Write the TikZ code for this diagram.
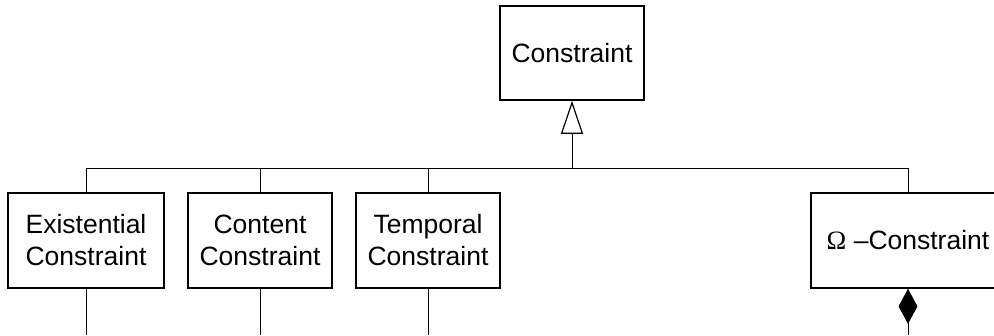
\documentclass[tikz,border=0pt]{standalone}
\usepackage{fontspec}
\setmainfont{Liberation Sans}
\newfontfamily\omegafont{Liberation Serif}
\usetikzlibrary{arrows.meta}
\begin{document}
\begin{tikzpicture}[x=1pt,y=-1pt,
  classbox/.style={draw,line width=1.6pt,inner sep=0pt,align=center,
    font=\fontsize{26.5}{32}\selectfont},
  link/.style={line width=0.9pt}]
\useasboundingbox (0,0) rectangle (994,335);
\clip (0,0) rectangle (994,335);
% superclass
\node[classbox,minimum width=144pt,minimum height=94pt] (top) at (572,53) {Constraint};
% subclasses
\node[classbox,minimum width=156pt,minimum height=95pt] (ex) at (86,240.5) {Existential\\Constraint};
\node[classbox,minimum width=144pt,minimum height=95pt] (co) at (260,240.5) {Content\\Constraint};
\node[classbox,minimum width=144pt,minimum height=95pt] (te) at (428,240.5) {Temporal\\Constraint};
\node[classbox,minimum width=194pt,minimum height=95pt] (om) at (908,240.5) {{\omegafont Ω} –Constraint};
% generalisation tree
\coordinate (bus) at (572,168);
\coordinate (floor) at (0,335);
\draw[link] (ex.north |- bus) -- (om.north |- bus);
\draw[link,-{Triangle[open,length=33pt,width=22pt,line width=1.2pt]}] (bus) -- (top.south);
\foreach \n in {ex,co,te,om} \draw[link] (\n.north |- bus) -- (\n.north);
% links leaving the bottom edge
\foreach \n in {ex,co,te} \draw[link] (\n.south) -- (\n.south |- floor);
\draw[link,{Diamond[length=35pt,width=19pt]}-] (om.south) -- (om.south |- floor);
\end{tikzpicture}
\end{document}
